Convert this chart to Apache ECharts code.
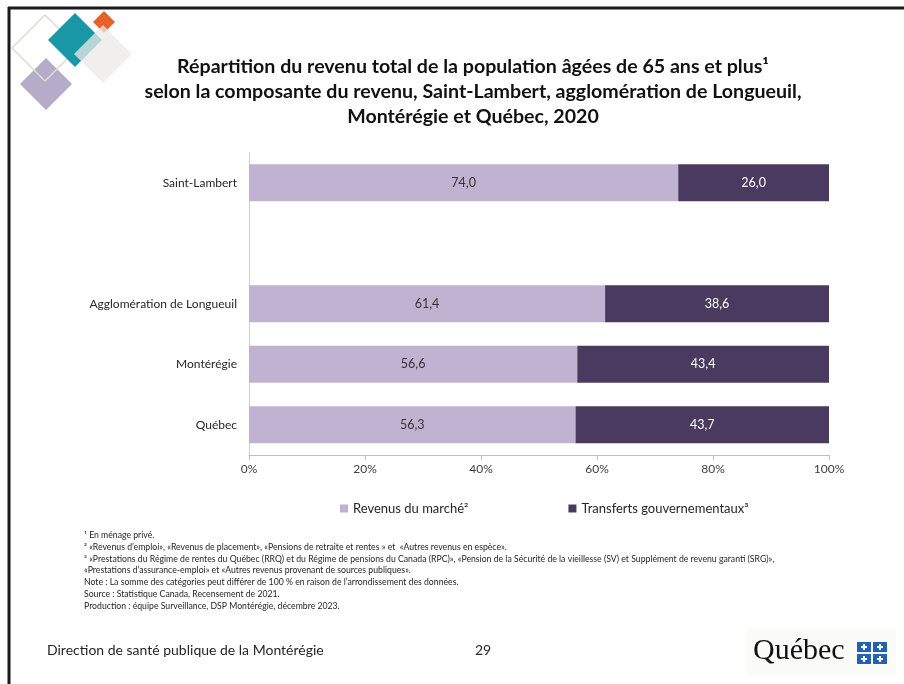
<!DOCTYPE html>
<html><head><meta charset="utf-8">
<script src="https://cdn.jsdelivr.net/npm/echarts@6/dist/echarts.min.js"></script>
<style>html,body{margin:0;padding:0;background:#fff}#c{width:904px;height:684px}</style>
</head><body><div id="c"></div>
<script>
const categories = ['Saint-Lambert', '', 'Agglomération de Longueuil', 'Montérégie', 'Québec'];
const marketIncome = [74.0, null, 61.4, 56.6, 56.3];
const govTransfers = [26.0, null, 38.6, 43.4, 43.7];
const seriesNames = ['Revenus du marché²', 'Transferts gouvernementaux³'];
const xTicks = [0, 20, 40, 60, 80, 100];
const titleLines = [
  'Répartition du revenu total de la population âgées de 65 ans et plus¹',
  'selon la composante du revenu, Saint-Lambert, agglomération de Longueuil,',
  'Montérégie et Québec, 2020'
];
const footnotes = [
  '¹ En ménage privé.',
  '² «Revenus d\u2019emploi», «Revenus de placement», «Pensions de retraite et rentes » et  «Autres revenus en espèce».',
  '³ «Prestations du Régime de rentes du Québec (RRQ) et du Régime de pensions du Canada (RPC)», «Pension de la Sécurité de la vieillesse (SV) et Supplément de revenu garanti (SRG)»,',
  '«Prestations d\u2019assurance-emploi» et «Autres revenus provenant de sources publiques».',
  'Note : La somme des catégories peut différer de 100 % en raison de l\u2019arrondissement des données.',
  'Source : Statistique Canada, Recensement de 2021.',
  'Production : équipe Surveillance, DSP Montérégie, décembre 2023.'
];
const footerLeft = 'Direction de santé publique de la Montérégie';
const pageNumber = '29';

const fmt = p => p.value == null ? '' : p.value.toFixed(1).replace('.', ',');
const FONT = 'Lato, "Open Sans", sans-serif';

function diamond(cx, cy, h) {
  return [[cx, cy - h], [cx + h, cy], [cx, cy + h], [cx - h, cy]];
}

const graphics = [
  // slide border
  { type: 'line', shape: { x1: 8, y1: 8, x2: 904, y2: 8 }, style: { stroke: '#1a1a1a', lineWidth: 3 } },
  { type: 'line', shape: { x1: 9, y1: 7, x2: 9, y2: 684 }, style: { stroke: '#1a1a1a', lineWidth: 3 } },
  // decorative diamonds
  { type: 'polygon', shape: { points: diamond(46, 84, 26) }, style: { fill: '#b6acc9' } },
  { type: 'polygon', shape: { points: diamond(45, 48, 33) }, style: { fill: 'none', stroke: '#d8dfd2', lineWidth: 1.5 } },
  { type: 'polygon', shape: { points: diamond(75, 40, 27) }, style: { fill: '#1997a6' } },
  { type: 'polygon', shape: { points: diamond(104, 22, 11) }, style: { fill: '#e5622a' } },
  { type: 'polygon', shape: { points: diamond(103, 54, 29) }, style: { fill: 'rgba(236,233,231,0.75)' } },
  // footer
  { type: 'text', left: 47, top: 643, style: { text: footerLeft, font: '14px ' + FONT, fill: '#262626' } },
  { type: 'text', left: 475, top: 643, style: { text: pageNumber, font: '14px ' + FONT, fill: '#262626' } },
  { type: 'rect', shape: { x: 746, y: 628, width: 150, height: 48 }, style: { fill: '#fbfbfa' } },
  { type: 'text', left: 753, top: 636, style: { text: 'Québec', font: '30px "Liberation Serif", "DejaVu Serif", serif', fill: '#111' } }
];
// Québec flag squares
[[857, 642], [873, 642], [857, 654], [873, 654]].forEach(([x, y]) => {
  graphics.push({ type: 'rect', shape: { x: x, y: y, width: 14, height: 10 }, style: { fill: '#2461b0' } });
  graphics.push({ type: 'rect', shape: { x: x + 6, y: y + 2, width: 2, height: 6 }, style: { fill: '#fff' } });
  graphics.push({ type: 'rect', shape: { x: x + 4, y: y + 4, width: 6, height: 2 }, style: { fill: '#fff' } });
});
// title
titleLines.forEach((t, i) => {
  graphics.push({ type: 'text', x: 473, y: 57 + i * 25, style: { text: t, font: 'bold 19.6px ' + FONT, fill: '#111', textAlign: 'center', x: 0, y: 0 } });
});
// footnotes
footnotes.forEach((t, i) => {
  graphics.push({ type: 'text', left: 84, top: 531 + i * 11.7, style: { text: t, font: '8.7px ' + FONT, fill: '#262626' } });
});

const chart = echarts.init(document.getElementById('c'));

chart.setOption({
  animation: false,
  textStyle: { fontFamily: FONT },
  grid: { left: 249, right: 75, top: 152.5, bottom: 229 },
  legend: {
    left: 335, top: 497, itemGap: 100, itemWidth: 8, itemHeight: 8, icon: 'rect',
    textStyle: { fontSize: 13, color: '#262626', fontFamily: FONT },
    data: seriesNames
  },
  xAxis: {
    type: 'value', min: 0, max: 100, interval: 20,
    axisLine: { show: true, lineStyle: { color: '#bfbfbf' } },
    axisTick: { show: true, length: 5, lineStyle: { color: '#bfbfbf' } },
    splitLine: { show: false },
    axisLabel: { formatter: v => xTicks.includes(v) ? v + '%' : '', color: '#404040', fontSize: 12, margin: 8, fontFamily: FONT }
  },
  yAxis: {
    type: 'category', inverse: true, data: categories,
    axisLine: { lineStyle: { color: '#d0d0d0' } },
    axisTick: { show: false },
    axisLabel: { color: '#262626', fontSize: 12, margin: 12, fontFamily: FONT }
  },
  series: [
    {
      name: seriesNames[0], type: 'bar', stack: 'tot', data: marketIncome, barWidth: 37,
      itemStyle: { color: '#c0b2d1' },
      label: { show: true, position: 'inside', formatter: fmt, color: '#333', fontSize: 12.5, fontFamily: FONT }
    },
    {
      name: seriesNames[1], type: 'bar', stack: 'tot', data: govTransfers, barWidth: 37,
      itemStyle: { color: '#4b3a5f' },
      label: { show: true, position: 'inside', formatter: fmt, color: '#fff', fontSize: 12.5, fontFamily: FONT }
    }
  ],
  graphic: graphics
});
</script>
</body></html>
